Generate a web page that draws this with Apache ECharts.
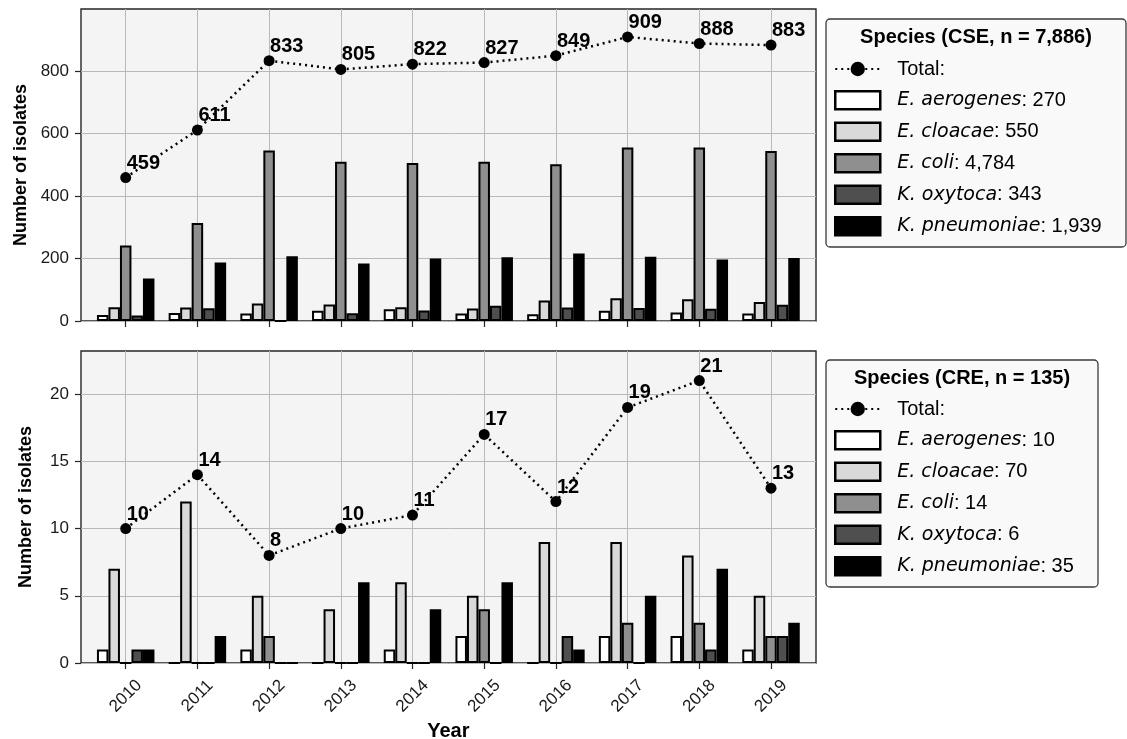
<!DOCTYPE html>
<html>
<head>
<meta charset="utf-8">
<script src="https://cdn.jsdelivr.net/npm/echarts@6/dist/echarts.min.js"></script>
<style>
html,body{margin:0;padding:0;background:#fff;}
#chart{width:1127px;height:739px;}
</style>
</head>
<body>
<div id="chart"></div>
<script>
// ---------- data ----------
const years = ['2010','2011','2012','2013','2014','2015','2016','2017','2018','2019'];
const speciesNames = ['E. aerogenes','E. cloacae','E. coli','K. oxytoca','K. pneumoniae'];

// CSE panel (top)
const cseTotal       = [459, 611, 833, 805, 822, 827, 849, 909, 888, 883];
const cseAerogenes   = [19, 26, 24, 33, 38, 24, 22, 33, 27, 24];
const cseCloacae     = [44, 43, 56, 53, 44, 40, 66, 73, 70, 61];
const cseColi        = [242, 314, 546, 510, 506, 510, 502, 555, 555, 544];
const cseOxytoca     = [18, 41, 0, 25, 34, 49, 43, 42, 39, 52];
const csePneumoniae  = [136, 187, 207, 184, 200, 204, 216, 206, 197, 202];
const cseCounts      = ['270', '550', '4,784', '343', '1,939'];
const cseTitle       = 'Species (CSE, n = 7,886)';

// CRE panel (bottom)
const creTotal       = [10, 14, 8, 10, 11, 17, 12, 19, 21, 13];
const creAerogenes   = [1, 0, 1, 0, 1, 2, 0, 2, 2, 1];
const creCloacae     = [7, 12, 5, 4, 6, 5, 9, 9, 8, 5];
const creColi        = [0, 0, 2, 0, 0, 4, 0, 3, 3, 2];
const creOxytoca     = [1, 0, 0, 0, 0, 0, 2, 0, 1, 2];
const crePneumoniae  = [1, 2, 0, 6, 4, 6, 1, 5, 7, 3];
const creCounts      = ['10', '70', '14', '6', '35'];
const creTitle       = 'Species (CRE, n = 135)';

// ---------- styling ----------
const barColors = ['#ffffff', '#d9d9d9', '#8f8f8f', '#4f4f4f', '#000000'];
const FONT = 'Liberation Sans';

const panels = [
  {key:'cse', total:cseTotal, bars:[cseAerogenes,cseCloacae,cseColi,cseOxytoca,csePneumoniae],
   counts:cseCounts, title:cseTitle, top:9, yMax:998.4, yInt:200, showX:false,
   legendTop:59, box:{x:826,y:19,w:300,h:228}, titleY:37},
  {key:'cre', total:creTotal, bars:[creAerogenes,creCloacae,creColi,creOxytoca,crePneumoniae],
   counts:creCounts, title:creTitle, top:351, yMax:23.2, yInt:5, showX:true,
   legendTop:399, box:{x:826,y:360,w:272,h:227}, titleY:378}
];

const FRAME_LEFT = 81, FRAME_W = 735, PANEL_H = 312;
const DATA_LEFT = 125.7, DATA_W = 645.3;

const grids = [], xAxes = [], yAxes = [], series = [], legends = [], graphics = [];
const labelMap = {};

panels.forEach((p, pi) => {
  const gFrame = grids.length;
  grids.push({left:FRAME_LEFT, top:p.top, width:FRAME_W, height:PANEL_H, show:true,
    backgroundColor:'#f4f4f4', borderColor:'#262626', borderWidth:1.4, outerBoundsMode:'none'});
  const gData = grids.length;
  grids.push({left:DATA_LEFT, top:p.top, width:DATA_W, height:PANEL_H, show:false, outerBoundsMode:'none'});

  // frame axes
  xAxes.push({gridIndex:gFrame, type:'value', min:0, max:1, show:false});
  yAxes.push({gridIndex:gFrame, type:'value', min:0, max:p.yMax, interval:p.yInt,
    axisLine:{show:false},
    axisTick:{show:true, length:6, lineStyle:{color:'#262626', width:1.2}},
    axisLabel:{show:true, margin:12, fontSize:17, fontFamily:FONT, color:'#1a1a1a', showMaxLabel:false},
    splitLine:{show:true, showMaxLine:false, lineStyle:{color:'#b9b9b9', width:1}},
    name:'Number of isolates', nameLocation:'middle', nameGap:46,
    nameTextStyle:{fontSize:18, fontWeight:'bold', fontFamily:FONT, color:'#000'}
  });
  // data axes
  const xData = xAxes.length;
  xAxes.push({gridIndex:gData, type:'category', data:years, boundaryGap:false,
    axisLine:{show:false},
    axisTick:{show:true, length:6, lineStyle:{color:'#262626', width:1.2}},
    axisLabel:{show:p.showX, rotate:45, align:'center', verticalAlign:'middle', margin:33,
      fontSize:17, fontFamily:FONT, color:'#1a1a1a'},
    splitLine:{show:true, lineStyle:{color:'#b9b9b9', width:1}},
    name:p.showX ? 'Year' : '', nameLocation:'middle', nameGap:58,
    nameTextStyle:{fontSize:20, fontWeight:'bold', fontFamily:FONT, color:'#000'}
  });
  const yData = yAxes.length;
  yAxes.push({gridIndex:gData, type:'value', min:0, max:p.yMax, interval:p.yInt, show:false});

  const legendData = [];
  const totalName = p.key + '-total';
  labelMap[totalName] = 'Total:';
  legendData.push({name:totalName});

  p.bars.forEach((arr, si) => {
    const nm = p.key + '-' + si;
    labelMap[nm] = '{i|' + speciesNames[si] + '}{n|: ' + p.counts[si] + '}';
    legendData.push({name:nm, icon:'rect'});
    series.push({type:'bar', name:nm, xAxisIndex:xData, yAxisIndex:yData, data:arr,
      barWidth:11.5, barGap:'0%', clip:false, animation:false,
      itemStyle:{color:barColors[si], borderColor:'#000', borderWidth:2},
      emphasis:{disabled:true}, z:2});
  });

  series.push({type:'line', name:totalName, xAxisIndex:xData, yAxisIndex:yData, data:p.total,
    symbol:'circle', symbolSize:11, clip:false, animation:false,
    itemStyle:{color:'#000'},
    lineStyle:{color:'#000', width:2.5, type:[2,4]},
    label:{show:true, position:'top', align:'left', distance:0, offset:[1,1], fontSize:20, fontWeight:'bold',
      fontFamily:FONT, color:'#000'},
    emphasis:{disabled:true}, z:5});

  legends.push({show:true, orient:'vertical', left:834, top:p.legendTop, padding:0,
    itemWidth:45, itemHeight:18, itemGap:11, selectedMode:false, data:legendData,
    formatter:(n) => labelMap[n],
    itemStyle:{borderWidth:2.5},
    textStyle:{fontSize:20, fontFamily:FONT, color:'#000', lineHeight:18, padding:[0,0,0,12],
      rich:{i:{fontStyle:'italic', fontFamily:'DejaVu Sans', fontSize:19, color:'#000', lineHeight:18},
            n:{fontFamily:FONT, fontSize:20, color:'#000', lineHeight:18}}}
  });

  graphics.push({type:'rect', shape:{x:p.box.x, y:p.box.y, width:p.box.w, height:p.box.h, r:4},
    style:{fill:'#f9f9f9', stroke:'#3a3a3a', lineWidth:1.3}, z:-10, silent:true});
  graphics.push({type:'text', x:p.box.x + p.box.w/2, y:p.titleY,
    style:{text:p.title, font:'bold 20px "' + FONT + '"', fill:'#000', align:'center', verticalAlign:'middle'},
    silent:true});
});

const chart = echarts.init(document.getElementById('chart'), null, {renderer:'canvas'});
chart.setOption({
  backgroundColor:'#ffffff',
  animation:false,
  grid:grids, xAxis:xAxes, yAxis:yAxes, series:series, legend:legends,
  graphic:{elements:graphics}
});
</script>
</body>
</html>
